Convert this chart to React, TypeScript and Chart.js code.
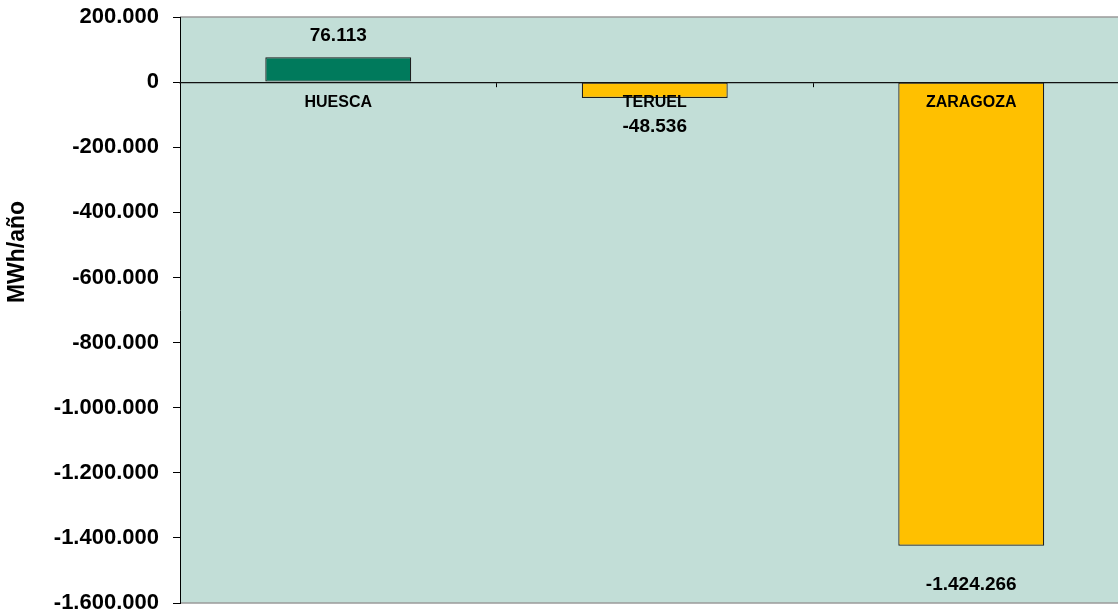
import React, { useEffect, useRef } from "react";
import { Chart, registerables } from "chart.js";

Chart.register(...registerables);

const categories = ["HUESCA", "TERUEL", "ZARAGOZA"];
const values = [76113, -48536, -1424266];
const barColors = ["#007A5C", "#FFC000", "#FFC000"];
const yMin = -1600000;
const yMax = 200000;
const yStep = 200000;
const yTitle = "MWh/año";

const FONT = "'Liberation Sans', Arial, Helvetica, sans-serif";

function fmt(n: number): string {
  const neg = n < 0;
  const s = Math.abs(Math.round(n)).toString();
  const withSep = s.replace(/\B(?=(\d{3})+(?!\d))/g, ".");
  return (neg ? "-" : "") + withSep;
}

const labelOffsets = [22, 29, 39];

const decoPlugin = {
  id: "deco",
  beforeDraw(chart: any) {
    const { ctx, chartArea } = chart;
    ctx.save();
    ctx.fillStyle = "#C2DED7";
    ctx.fillRect(chartArea.left, chartArea.top, chartArea.right - chartArea.left, chartArea.bottom - chartArea.top);
    ctx.strokeStyle = "#9A9A9A";
    ctx.lineWidth = 1.5;
    ctx.beginPath();
    ctx.moveTo(chartArea.left, chartArea.top);
    ctx.lineTo(chartArea.right, chartArea.top);
    ctx.moveTo(chartArea.left, chartArea.bottom);
    ctx.lineTo(chartArea.right, chartArea.bottom);
    ctx.stroke();
    ctx.restore();
  },
  afterDraw(chart: any) {
    const { ctx } = chart;
    ctx.save();
    ctx.fillStyle = "#000";
    ctx.font = `bold 23px ${FONT}`;
    ctx.textAlign = "center";
    ctx.textBaseline = "middle";
    ctx.translate(18, 252);
    ctx.rotate(-Math.PI / 2);
    ctx.fillText(yTitle, 0, 0);
    ctx.restore();

    const meta = chart.getDatasetMeta(0);
    ctx.save();
    ctx.fillStyle = "#000";
    ctx.font = `bold 19px ${FONT}`;
    ctx.textAlign = "center";
    ctx.textBaseline = "middle";
    meta.data.forEach((el: any, i: number) => {
      const v = values[i];
      const off = labelOffsets[i];
      const y = v >= 0 ? el.y - off : el.y + off;
      ctx.fillText(fmt(v), el.x, y);
    });
    ctx.restore();
  },
};

export default function App() {
  const ref = useRef<HTMLCanvasElement | null>(null);
  useEffect(() => {
    document.body.style.overflow = "hidden";
    if (!ref.current) return;
    const chart = new Chart(ref.current, {
      type: "bar",
      data: {
        labels: categories,
        datasets: [
          {
            data: values,
            backgroundColor: barColors,
            borderColor: "#1E1E1E",
            borderWidth: 1.2,
            borderSkipped: false,
            barPercentage: 0.461,
            categoryPercentage: 1,
          },
        ],
      },
      options: {
        responsive: false,
        animation: false,
        layout: { padding: { top: 17, bottom: 13, left: 0, right: 2.5 } },
        plugins: {
          legend: { display: false },
          tooltip: { enabled: false },
          title: { display: false },
        },
        scales: {
          x: {
            type: "category",
            position: { y: 0 } as any,
            offset: true,
            grid: {
              display: true,
              drawOnChartArea: false,
              drawTicks: true,
              tickLength: 4,
              color: "#000",
              offset: true,
            },
            border: { display: true, color: "#111", width: 1.2, z: 1 },
            ticks: {
              z: 1,
              color: "#000",
              font: { family: FONT, size: 16, weight: "bold" },
              padding: 7,
              maxRotation: 0,
              autoSkip: false,
            },
          },
          y: {
            min: yMin,
            max: yMax,
            afterFit(scale: any) {
              scale.width = 180;
              scale.paddingTop = 0;
              scale.paddingBottom = 0;
            },
            grid: {
              display: true,
              drawOnChartArea: false,
              drawTicks: true,
              tickLength: 7,
              color: "#000",
            },
            border: { display: true, color: "#000", width: 1 },
            ticks: {
              stepSize: yStep,
              color: "#000",
              padding: 14,
              font: { family: FONT, size: 22, weight: "bold" },
              callback: (v: any) => fmt(Number(v)),
            },
          },
        },
      },
      plugins: [decoPlugin],
    });
    return () => chart.destroy();
  }, []);
  return (
    <div style={{ position: "fixed", left: 0, top: 0, width: 1132, height: 616 }}>
      <canvas ref={ref} width={1132} height={616} style={{ display: "block" }} />
    </div>
  );
}
